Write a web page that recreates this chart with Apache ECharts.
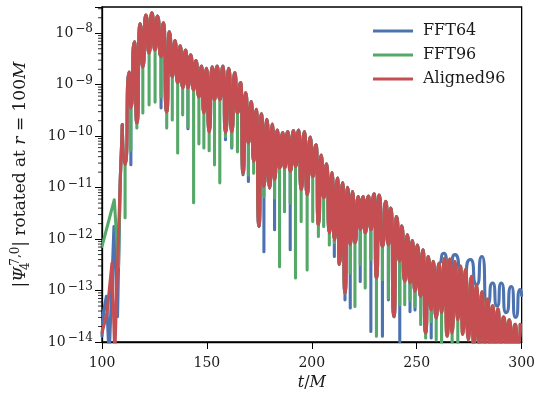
<!DOCTYPE html>
<html><head><meta charset="utf-8">
<script src="https://cdn.jsdelivr.net/npm/echarts@6/dist/echarts.min.js"></script>
<style>html,body{margin:0;padding:0;background:#fff}#c{width:538px;height:398px}</style>
</head><body><div id="c"></div>
<script>
const seriesNames = ['FFT64', 'FFT96', 'Aligned96'];
const colors = ['#4C72B0', '#55A868', '#C44E52'];
const xTicks = [100, 150, 200, 250, 300];
const yTickExponents = [-14, -13, -12, -11, -10, -9, -8];

// local maxima shared by all three runs (t, |Psi|)
const peaks = [
  [109.7,1.66e-10],[112.96,1.77e-9],[115.47,6.8e-9],[118.18,1.52e-8],[120.88,2.26e-8],
  [123.73,2.5e-8],[126.39,2.17e-8],[129.24,1.6e-8],[132.08,1.07e-8],[134.79,7.2e-9],
  [137.3,5.7e-9],[139.87,4.7e-9],[142.24,3.8e-9],[144.76,2.94e-9],[147.46,2.3e-9],
  [149.83,2.09e-9],[152.49,2.24e-9],[154.86,2.3e-9],[157.71,2.3e-9],[160.42,2.09e-9],
  [163.27,1.72e-9],[166.11,1.1e-9],[168.49,7.0e-10],[171.19,4.7e-10],[173.56,3.34e-10],
  [175.94,2.71e-10],[178.59,2.14e-10],[181.16,1.73e-10],[183.53,1.32e-10],[186.19,1.17e-10],
  [188.56,1.23e-10],[191.27,1.28e-10],[193.78,1.32e-10],[196.49,1.23e-10],[199.19,9.6e-11],
  [202.04,6.8e-11],[204.41,4.3e-11],[207.07,2.9e-11],[209.63,1.96e-11],[212.29,1.53e-11],
  [214.67,1.26e-11],[217.04,1.02e-11],[219.41,8.4e-12],[222.12,6.7e-12],[224.49,6.7e-12],
  [227.0,6.9e-12],[229.71,7.6e-12],[232.08,7.2e-12],[235.26,5.4e-12],[237.64,4.0e-12],
  [240.29,2.75e-12],[242.86,1.81e-12],[245.52,1.21e-12],[247.89,9.4e-13],[250.26,7.7e-13],
  [252.96,6.2e-13],[255.48,4.6e-13],[257.85,3.7e-13],[260.56,3.4e-13],[263.26,4.3e-13],
  [265.78,4.1e-13],[268.15,3.7e-13],[270.86,3.0e-13],[273.23,2.6e-13],[276.08,1.9e-13],
  [278.45,1.3e-13],[281.11,9.6e-14],[283.82,6.8e-14],[286.19,5.1e-14],[288.7,4.4e-14],
  [291.4,3.1e-14],[294.1,2.7e-14],[296.96,2.2e-14],[299.3,2.2e-14]
];

// times of the local minima
const troughT = [
  111.0,113.76,116.61,119.46,122.45,125.3,128.14,130.85,133.5,136.07,
  138.44,140.96,143.66,146.18,148.55,151.07,153.63,156.15,158.85,161.84,
  164.55,167.2,169.77,172.28,174.8,177.17,179.88,182.25,184.62,186.99,
  189.7,192.22,194.92,197.77,200.43,203.13,205.65,208.35,210.73,213.1,
  215.8,218.32,220.55,223.07,225.44,228.14,230.8,233.65,236.5,239.2,
  241.91,244.28,246.8,249.17,251.87,254.25,256.9,259.28,261.84,264.5,
  266.87,269.57,271.95,274.56,277.17,279.8,282.4,285.0,287.4,290.0,
  292.8,295.4,298.1
];

const redTroughs = [
  2.8e-11,3.55e-10,1.8e-10,2.2e-9,4.1e-9,4.7e-9,3.47e-9,2.96e-10,1.42e-9,1.08e-9,
  8.7e-10,8.7e-10,7.9e-10,5.8e-10,2.83e-10,1.21e-10,5.1e-10,5.1e-10,1.16e-10,1.21e-10,
  2.83e-10,1.9e-11,7.3e-11,3.2e-11,1.76e-12,1.05e-11,9.8e-12,1.42e-11,2.4e-11,2.4e-11,
  2.06e-11,2.57e-11,9.1e-12,7.2e-12,1.64e-11,1.9e-12,6.3e-12,1.31e-12,9.7e-13,3.2e-13,
  8.9e-14,7.7e-13,8.4e-13,1.52e-12,1.31e-12,1.52e-12,1.75e-13,7.2e-13,7.7e-13,3.1e-14,
  3.7e-13,1.5e-13,1.4e-13,9.6e-14,7.7e-14,1.5e-14,4.2e-14,2.9e-14,3.7e-14,1.3e-14,
  1.5e-14,2.7e-14,1.4e-14,1.1e-14,8e-15,8e-15,8e-15,8e-15,8e-15,8e-15,
  8e-15,8e-15,8e-15
];

const greenTroughs = [
  2.6e-12,5.4e-11,1.45e-10,2.83e-10,4.06e-10,4.6e-10,5.8e-10,1.45e-10,2.07e-10,4.7e-11,
  2.6e-10,1.51e-10,5.1e-12,7.1e-11,5.9e-11,5.2e-11,2.77e-11,1.24e-11,9.8e-11,6.2e-11,
  4.96e-11,1.9e-11,1.77e-11,1.9e-11,1.76e-12,6.7e-12,9.8e-12,6.3e-12,2.9e-13,3.4e-12,
  5.0e-12,1.75e-13,2.2e-12,2.5e-13,2.2e-12,1.12e-12,1.76e-12,7.7e-13,8.5e-13,3.2e-13,
  8.9e-14,2.2e-13,4.9e-14,3.2e-13,1.12e-13,4.0e-13,1.3e-14,1.62e-13,7.2e-14,3.1e-14,
  5.3e-14,5.3e-14,6.6e-14,4.9e-14,2.2e-14,1.2e-14,2.5e-14,1.1e-14,8e-15,1.3e-14,
  8e-15,8e-15,1.4e-14,1.1e-14,8e-15,8e-15,8e-15,8e-15,8e-15,8e-15,
  8e-15,8e-15,8e-15
];

const blueTroughs = [
  2.8e-11,2.8e-11,1.8e-10,2.2e-9,4.1e-9,4.7e-9,3.55e-10,2.96e-10,1.42e-9,1.08e-9,
  8.7e-10,1.4e-10,7.9e-10,5.8e-10,2.83e-10,1.21e-10,5.1e-10,5.1e-10,8.5e-11,5.9e-11,
  2.83e-10,1.78e-11,1.32e-11,3.2e-11,1.76e-12,5.7e-13,9.8e-12,1.52e-12,2.4e-11,2.4e-11,
  6.2e-13,2.57e-11,9.1e-12,7.2e-12,1.64e-11,1.9e-12,6.3e-12,1.31e-12,4.6e-13,3.2e-13,
  6.6e-14,4.6e-14,8.4e-13,1.5e-13,1.31e-12,1.6e-14,1.75e-13,1.3e-14,6.6e-14,3.1e-14,
  1.0e-14,1.5e-13,3.9e-14,4.2e-14,7.7e-14,1.5e-14,1.2e-14,2.9e-14
];

// sparse early output before the first lobe (drawn with straight segments)
const redEarly = [[100.0,1.5e-14],[102.4,3.7e-14],[104.75,3.4e-13],[106.1,6e-15],[108.7,1.4e-11]];
const greenEarly = [[100.0,7.2e-13],[105.84,5.8e-12],[107.88,2.9e-13],[108.7,1.4e-11]];
const blueEarly = [[100.0,1.3e-14],[100.8,4e-14],[102.1,7.7e-14],[103.4,5e-15],[105.7,1.76e-12],[107.4,3.1e-14],[108.7,1.4e-11]];
const blueLate = [
  [262.9,5.3e-13],[265.5,2.2e-13],[268.2,5.0e-13],[271.8,1.5e-13],[275.6,4.0e-13],
  [278.6,1.3e-13],[281.1,4.6e-13],[283.6,5.4e-14],[286.2,1.4e-13],[288.3,5e-14],
  [290.3,1.4e-13],[292.6,3.7e-14],[295.1,1.2e-13],[297.1,3e-14],[299.3,1.04e-13],[300.0,8e-14]
];

// Each run follows the common envelope; where its minimum is deeper than the
// Aligned96 minimum it drops straight down from that level (as in the figure).
function build(troughs, tMax, late) {
  const pts = [];
  peaks.forEach(p => { if (p[0] <= tMax) pts.push(p); });
  troughT.forEach((t, i) => {
    if (t > tMax || i >= troughs.length) return;
    const ref = redTroughs[i];
    if (troughs[i] < ref) { pts.push([t, ref]); pts.push([t, troughs[i]]); pts.push([t, ref]); }
    else pts.push([t, troughs[i]]);
  });
  if (late) late.forEach(p => pts.push(p));
  pts.sort((a, b) => a[0] - b[0]);
  return pts;
}
const withFirstPeak = arr => arr.concat([peaks[0]]);

const Y_MIN = 1e-14, Y_MAX = 3.24e-8;
const minorVals = [];
for (let e = -14; e <= -8; e++) for (let k = 2; k <= 9; k++) {
  const v = k * Math.pow(10, e);
  if (v <= Y_MAX) minorVals.push([xTicks[0], v]);
}

const FONT = 'DejaVu Serif';
const TXT = '#1a1a1a';
const chart = echarts.init(document.getElementById('c'), null, {renderer: 'canvas'});
const mkLine = (name, color, data, smooth, z) => ({
  name, type: 'line', data, showSymbol: false, symbol: 'none', z,
  smooth: smooth ? 0.9 : false, smoothMonotone: 'x',
  lineStyle: {color, width: 3.1, join: 'round', cap: 'round'}, itemStyle: {color},
  clip: true, animation: false
});

chart.setOption({
  animation: false,
  grid: {left: 102, right: 15, top: 7, bottom: 56, show: true, borderColor: '#000', borderWidth: 1.3, backgroundColor: 'transparent'},
  legend: {
    data: seriesNames, orient: 'vertical', left: 368, top: 18, itemWidth: 40, itemHeight: 3,
    itemGap: 8, icon: 'rect',
    textStyle: {fontFamily: FONT, fontSize: 16, color: TXT, padding: [0, 0, 0, 5], lineHeight: 16}
  },
  xAxis: {
    type: 'value', min: xTicks[0], max: xTicks[xTicks.length - 1], interval: 50,
    name: '{i|t}{r|/}{i|M}', nameLocation: 'middle', nameGap: 31,
    nameTextStyle: {rich: {
      i: {fontFamily: FONT, fontStyle: 'italic', fontSize: 16, color: TXT},
      r: {fontFamily: FONT, fontSize: 16, color: TXT}
    }},
    axisLine: {show: true, lineStyle: {color: '#000', width: 1.3}},
    axisTick: {show: true, inside: false, length: 7, lineStyle: {color: '#000', width: 1}},
    axisLabel: {fontFamily: FONT, fontSize: 14, color: TXT, margin: 14},
    splitLine: {show: false}
  },
  yAxis: {
    type: 'log', logBase: 10, min: Y_MIN, max: Y_MAX,
    name: '{t||}{p|Ψ}{sub|4}{sup|7,0}{t|| rotated at }{i|r}{t| = 100}{i|M}',
    nameLocation: 'middle', nameGap: 70, nameRotate: 90,
    nameTextStyle: {rich: {
      t: {fontFamily: FONT, fontSize: 17, color: TXT, lineHeight: 22},
      i: {fontFamily: FONT, fontStyle: 'italic', fontSize: 17, color: TXT, lineHeight: 22},
      p: {fontFamily: FONT, fontStyle: 'italic', fontSize: 17, color: TXT, lineHeight: 22},
      sub: {fontFamily: FONT, fontSize: 12, color: TXT, verticalAlign: 'bottom', lineHeight: 12, width: 1},
      sup: {fontFamily: FONT, fontSize: 12, color: TXT, verticalAlign: 'top', lineHeight: 12}
    }},
    axisLine: {show: true, lineStyle: {color: '#000', width: 1.3}},
    axisTick: {show: true, inside: false, length: 7, lineStyle: {color: '#000', width: 1}},
    axisLabel: {
      margin: 9,
      formatter: v => {
        const e = Math.round(Math.log10(v));
        if (Math.abs(Math.log10(v) - e) > 1e-6 || yTickExponents.indexOf(e) < 0) return '';
        return '{b|10}{s|\u2212' + Math.abs(e) + '}';
      },
      rich: {
        b: {fontFamily: FONT, fontSize: 14, color: TXT, lineHeight: 20},
        s: {fontFamily: FONT, fontSize: 12, color: TXT, verticalAlign: 'top', lineHeight: 14, padding: [0, 0, 0, 2]}
      }
    },
    splitLine: {show: false},
    minorTick: {show: false}
  },
  series: [
    mkLine(seriesNames[0], colors[0], withFirstPeak(blueEarly), false, 2),
    mkLine(seriesNames[0], colors[0], build(blueTroughs, 261, blueLate), true, 2),
    mkLine(seriesNames[1], colors[1], withFirstPeak(greenEarly), false, 3),
    mkLine(seriesNames[1], colors[1], build(greenTroughs, 400), true, 3),
    mkLine(seriesNames[2], colors[2], withFirstPeak(redEarly), false, 4),
    mkLine(seriesNames[2], colors[2], build(redTroughs, 400), true, 4),
    {
      type: 'custom', silent: true, clip: false, z: 5, data: minorVals, animation: false,
      renderItem: (params, api) => {
        const p = api.coord([api.value(0), api.value(1)]);
        return {type: 'line', shape: {x1: p[0] - 4, y1: p[1], x2: p[0], y2: p[1]}, style: {stroke: '#000', lineWidth: 0.8}};
      }
    }
  ]
});
</script>
</body></html>
